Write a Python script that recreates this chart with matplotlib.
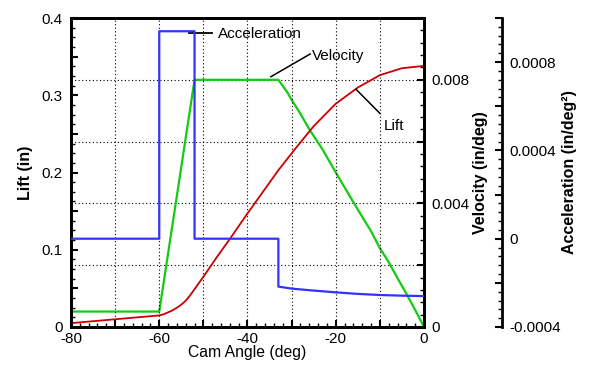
import matplotlib
matplotlib.use("Agg")
import matplotlib.pyplot as plt
from matplotlib.ticker import MultipleLocator, FuncFormatter

plt.rcParams['font.family'] = ['Liberation Sans', 'DejaVu Sans']

# ---- data ----
angle_lift = [-80, -75, -70, -65, -60, -59, -58, -57, -56, -55, -54, -53, -52,
              -50, -47, -44, -40, -36, -33, -29, -25, -20, -15, -10, -5, 0]
lift = [0.005, 0.0075, 0.010, 0.0125, 0.015, 0.0165, 0.019, 0.0215, 0.025,
        0.029, 0.034, 0.041, 0.049, 0.065, 0.090, 0.114, 0.147, 0.179, 0.203,
        0.232, 0.260, 0.289, 0.310, 0.326, 0.335, 0.338]

angle_vel = [-80, -60, -52, -33, -31, -30, -28, -26, -23, -20, -15, -12, -10,
             -8, -6, -4, -2, 0]
velocity = [0.0005, 0.0005, 0.008, 0.008, 0.0076, 0.00735, 0.0069, 0.0064,
            0.00575, 0.0050, 0.0038, 0.0031, 0.00255, 0.0021, 0.00158, 0.00108,
            0.00055, 0.0]

angle_acc = [-80, -60, -60, -52, -52, -33, -33, -30, -25, -20, -15, -10, -5, 0]
acceleration = [0.0, 0.0, 0.00094, 0.00094, 0.0, 0.0, -0.000217, -0.000226,
                -0.000235, -0.000243, -0.00025, -0.000255, -0.000258, -0.00026]

BLUE = '#3333ff'
GREEN = '#11cc11'
RED = '#cc0000'
FS = 11

fig = plt.figure(figsize=(5.92, 3.69), dpi=100, facecolor='white')
ax = fig.add_axes([71/592, 1 - 327/369, 353/592, 309/369])
axv = ax.twinx()
axa = ax.twinx()

# layering: velocity (with its grid) at bottom
axv.set_zorder(1)
ax.set_zorder(2)
axa.set_zorder(3)
for a in (ax, axv, axa):
    a.patch.set_visible(False)

# ---- lines ----
ax.plot(angle_lift, lift, color=RED, lw=1.3)
axv.plot(angle_vel, velocity, color=GREEN, lw=1.6)
axa.plot(angle_acc, acceleration, color=BLUE, lw=1.6)

ax.set_xlim(-80, 0)
ax.set_ylim(0, 0.4)
axv.set_ylim(0, 0.01)
axa.set_ylim(-0.0004, 0.001)


def every(step):
    def f(v, pos):
        k = v / step
        if abs(k - round(k)) < 1e-6:
            s = '%g' % round(v, 8)
            return '0' if s in ('0', '-0') else s
        return ''
    return FuncFormatter(f)


# x axis
ax.xaxis.set_major_locator(MultipleLocator(10))
ax.xaxis.set_minor_locator(MultipleLocator(2))
ax.xaxis.set_major_formatter(every(20))
# lift axis
ax.yaxis.set_major_locator(MultipleLocator(0.05))
ax.yaxis.set_minor_locator(MultipleLocator(0.0125))
ax.yaxis.set_major_formatter(every(0.1))
# velocity axis
axv.yaxis.set_major_locator(MultipleLocator(0.002))
axv.yaxis.set_minor_locator(MultipleLocator(0.0004))
axv.yaxis.set_major_formatter(every(0.004))
# acceleration axis
axa.yaxis.set_major_locator(MultipleLocator(0.0002))
axa.yaxis.set_minor_locator(MultipleLocator(0.00004))
axa.yaxis.set_major_formatter(every(0.0004))

for a in (ax, axv, axa):
    a.tick_params(which='major', direction='in', length=5, width=1.5,
                  labelsize=FS, pad=5, color='black')
    a.tick_params(which='minor', direction='in', length=3, width=1.0,
                  color='black')
ax.tick_params(axis='x', which='both', top=False, bottom=True, pad=3.5)
ax.tick_params(axis='y', which='both', left=True, right=False, pad=6)

# spines
for a in (ax, axv):
    for s in a.spines.values():
        s.set_linewidth(2)
        s.set_color('black')
for s in ('top', 'bottom', 'left'):
    axa.spines[s].set_visible(False)
axa.spines['right'].set_position(('axes', (502 - 71) / 353))
axa.spines['right'].set_linewidth(2)

# grids: x on main, y (velocity) on velocity axis
ax.grid(True, axis='x', which='major', color='black', lw=0.8,
        linestyle=(0, (1, 2.2)))
axv.grid(True, axis='y', which='major', color='black', lw=0.8,
         linestyle=(0, (1, 2.2)))

# labels
ax.set_xlabel('Cam Angle (deg)', fontsize=FS + 0.3)
ax.xaxis.set_label_coords(0.5, (327 - 345) / 309)
ax.set_ylabel('Lift (in)', fontsize=FS + 0.5, fontweight='bold')
ax.yaxis.set_label_coords((33 - 71) / 353, 0.5)
axv.set_ylabel('Velocity (in/deg)', fontsize=FS + 0.5, fontweight='bold')
axv.yaxis.set_label_coords((473 - 71) / 353, 0.5)
axa.set_ylabel('Acceleration (in/deg²)', fontsize=FS + 0.5, fontweight='bold')
axa.yaxis.set_label_coords((562 - 71) / 353, 0.5)

# annotations (in lift/angle coordinates)
ax.plot([-53.2, -48.1], [0.381, 0.381], color='black', lw=1.3, zorder=5)
ax.text(-46.75, 0.3737, 'Acceleration', fontsize=FS, va='baseline', ha='left')
ax.plot([-34.7, -25.8], [0.324, 0.3534], color='black', lw=1.1, zorder=5)
ax.text(-25.45, 0.3456, 'Velocity', fontsize=FS, va='baseline', ha='left')
ax.plot([-15.4, -10.0], [0.3077, 0.2766], color='black', lw=1.1, zorder=5)
ax.text(-9.2, 0.255, 'Lift', fontsize=FS, va='baseline', ha='left')

fig.savefig('out.png', dpi=100, facecolor='white')
